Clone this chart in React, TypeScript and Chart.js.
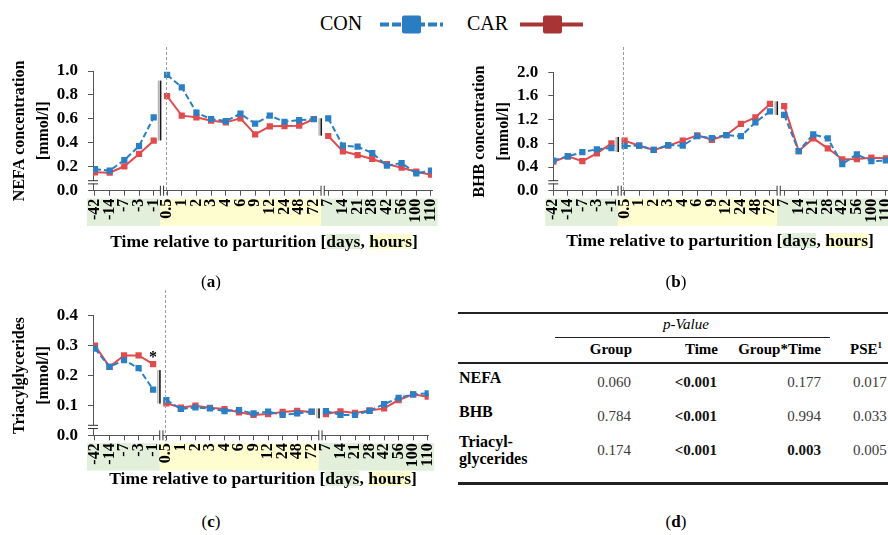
import React, { useEffect, useRef } from 'react';
import { Chart, registerables } from 'chart.js';

Chart.register(...registerables);

const SERIF = '"Liberation Serif", "Times New Roman", serif';

// Sampling times: days before calving, hours after calving, days after calving
const PRE_DAYS = ['-42', '-14', '-7', '-3', '-1'];
const HOURS = ['0.5', '1', '2', '3', '4', '6', '9', '12', '24', '48', '72'];
const POST_DAYS = ['7', '14', '21', '28', '42', '56', '100', '110'];

// NEFA [mmol/l]
const NEFA_CON = [0.18, 0.167, 0.256, 0.373, 0.613, 0.967, 0.864, 0.652, 0.599, 0.582, 0.643, 0.56, 0.627, 0.576, 0.59, 0.597, 0.605, 0.376, 0.368, 0.315, 0.209, 0.231, 0.145, 0.167];
const NEFA_CAR = [0.154, 0.15, 0.204, 0.307, 0.418, 0.791, 0.627, 0.613, 0.585, 0.571, 0.605, 0.471, 0.538, 0.54, 0.543, 0.599, 0.457, 0.329, 0.298, 0.265, 0.223, 0.192, 0.159, 0.134];

// BHB [mmol/l]
const BHB_CON = [0.51, 0.58, 0.65, 0.7, 0.72, 0.755, 0.76, 0.69, 0.77, 0.76, 0.92, 0.89, 0.94, 0.92, 1.155, 1.34, 1.28, 0.67, 0.95, 0.885, 0.45, 0.615, 0.5, 0.51];
const BHB_CAR = [0.49, 0.58, 0.5, 0.63, 0.8, 0.845, 0.76, 0.69, 0.76, 0.845, 0.935, 0.86, 0.94, 1.13, 1.24, 1.465, 1.43, 0.67, 0.885, 0.716, 0.53, 0.535, 0.557, 0.547];

// Triacylglycerides [mmol/l]
const TAG_CON = [0.29, 0.229, 0.251, 0.225, 0.153, 0.118, 0.088, 0.093, 0.09, 0.081, 0.084, 0.073, 0.079, 0.068, 0.073, 0.079, 0.081, 0.068, 0.068, 0.082, 0.104, 0.125, 0.137, 0.14];
const TAG_CAR = [0.3, 0.229, 0.267, 0.267, 0.238, 0.107, 0.093, 0.099, 0.092, 0.088, 0.077, 0.068, 0.071, 0.078, 0.082, 0.078, 0.071, 0.08, 0.075, 0.083, 0.09, 0.118, 0.137, 0.129];

// Statistics table
const TABLE_ROWS = [['NEFA'], ['BHB'], ['Triacyl-', 'glycerides']];
const P_GROUP = ['0.060', '0.784', '0.174'];
const P_TIME = ['<0.001', '<0.001', '<0.001'];
const P_GROUP_TIME = ['0.177', '0.994', '0.003'];
const PSE = ['0.017', '0.033', '0.005'];

const CON_COLOR = '#2b7fc4';
const CAR_COLOR = '#e04b4d';
const CON_KEY = '#2a7dc2';
const CAR_KEY = '#a83436';
const AXIS = '#555555';
const DAY_FILL = '#e2efda';
const HOUR_FILL = '#fefdd0';

const BLOCKS = [PRE_DAYS, HOURS, POST_DAYS];
const BLOCK_FILL = [DAY_FILL, HOUR_FILL, DAY_FILL];
// x position of the first sample in each block (blocks are separated by axis breaks)
const BLOCK_START = [0, 4.91, 15.89];
const TIME_LABELS = BLOCKS.flat();
const X_POS = BLOCKS.flatMap((b, i) => b.map((_, j) => BLOCK_START[i] + j));
const BLOCK_END = BLOCKS.map((b, i) => BLOCK_START[i] + b.length - 1);
const GAPS = [(BLOCK_END[0] + BLOCK_START[1]) / 2, (BLOCK_END[1] + BLOCK_START[2]) / 2];
const PARTURITION_X = BLOCK_START[1] - 0.1;

function toPoints(values: number[]) {
  const pts: { x: number; y: number | null }[] = [];
  let k = 0;
  BLOCKS.forEach((b, i) => {
    if (i > 0) pts.push({ x: GAPS[i - 1], y: null });
    b.forEach(() => {
      pts.push({ x: X_POS[k], y: values[k] });
      k++;
    });
  });
  return pts;
}

type Panel = {
  con: number[];
  car: number[];
  yMax: number;
  yStep: number;
  yTitle: string[];
  left: number;
  top: number;
  width: number;
  height: number;
  padTop: number;
  padRight: number;
  yAxisWidth: number;
  xAxisHeight: number;
  titlePad: number;
  xMin: number;
  xMax: number;
  breakRanges: [number, number][];
  starAt?: number;
};

const PANELS: Panel[] = [
  {
    con: NEFA_CON, car: NEFA_CAR, yMax: 1.0, yStep: 0.2,
    yTitle: ['NEFA concentration', '[mmol/l]'],
    left: 0, top: 45, width: 456, height: 190,
    padTop: 26, padRight: 24, yAxisWidth: 93, xAxisHeight: 44.3, titlePad: 7.5,
    xMin: -0.136, xMax: 22.96,
    breakRanges: [[0.42, 0.92], [0.46, 0.605]],
  },
  {
    con: BHB_CON, car: BHB_CAR, yMax: 2.0, yStep: 0.4,
    yTitle: ['BHB concentration', '[mmol/l]'],
    left: 445, top: 45, width: 471, height: 190,
    padTop: 27.3, padRight: 24.15, yAxisWidth: 108.3, xAxisHeight: 44.3, titlePad: 23,
    xMin: 0, xMax: 23.3,
    breakRanges: [[0.654, 0.907], [1.28, 1.51]],
  },
  {
    con: TAG_CON, car: TAG_CAR, yMax: 0.4, yStep: 0.1,
    yTitle: ['Triacylglycerides', '[mmol/l]'],
    left: 0, top: 288, width: 453, height: 192,
    padTop: 27.7, padRight: 24.3, yAxisWidth: 93, xAxisHeight: 44.7, titlePad: 7.5,
    xMin: -0.136, xMax: 22.96,
    breakRanges: [[0.106, 0.218], [0.057, 0.09]],
    starAt: 4,
  },
];

function decorations(p: Panel) {
  return {
    id: 'decorations',
    beforeDraw(chart: any) {
      const { ctx, chartArea, scales } = chart;
      const x = scales.x;
      const bandTop = chartArea.bottom + 7.8;
      const bandH = 27.5;
      ctx.save();
      BLOCKS.forEach((_, i) => {
        const from = i === 0 ? BLOCK_START[0] - 0.55 : GAPS[i - 1];
        const to = i === BLOCKS.length - 1 ? BLOCK_END[i] + 0.45 : GAPS[i];
        const x0 = x.getPixelForValue(from);
        const x1 = x.getPixelForValue(to);
        ctx.fillStyle = BLOCK_FILL[i];
        ctx.fillRect(x0, bandTop, x1 - x0, bandH);
      });
      ctx.restore();
    },
    afterDraw(chart: any) {
      const { ctx, chartArea, scales } = chart;
      const x = scales.x;
      const y = scales.y;
      ctx.save();

      // calving marker
      const px = Math.round(x.getPixelForValue(PARTURITION_X)) + 0.5;
      ctx.strokeStyle = '#9c9c9c';
      ctx.lineWidth = 1;
      ctx.setLineDash([3, 2]);
      ctx.beginPath();
      ctx.moveTo(px, 2);
      ctx.lineTo(px, chartArea.bottom + 6);
      ctx.stroke();
      ctx.setLineDash([]);

      // break bars between the time blocks
      p.breakRanges.forEach(([lo, hi], i) => {
        const bx = x.getPixelForValue(GAPS[i]);
        const y0 = y.getPixelForValue(hi);
        const y1 = y.getPixelForValue(lo);
        ctx.fillStyle = '#b4b4b4';
        ctx.fillRect(bx - 2.6, y0, 1.4, y1 - y0);
        ctx.fillStyle = '#1a1a1a';
        ctx.fillRect(bx - 0.6, y0, 1.6, y1 - y0);
      });

      // x-axis breaks
      GAPS.forEach((g) => {
        const bx = x.getPixelForValue(g) + 1.5;
        const by = chartArea.bottom;
        ctx.fillStyle = '#ffffff';
        ctx.fillRect(bx - 1.5, by - 1, 3, 2);
        ctx.fillStyle = '#333333';
        ctx.fillRect(bx - 2, by - 5, 1, 10);
        ctx.fillRect(bx + 1.2, by - 5, 1, 10);
      });

      // y-axis break
      const lx = chartArea.left;
      const yb = chartArea.bottom - 8.5;
      ctx.fillStyle = '#ffffff';
      ctx.fillRect(lx - 1, yb - 1.2, 2.5, 2.4);
      ctx.fillStyle = '#333333';
      ctx.fillRect(lx - 5, yb - 2, 10, 1);
      ctx.fillRect(lx - 5, yb + 1.2, 10, 1);

      // significance mark
      if (p.starAt !== undefined) {
        const sx = x.getPixelForValue(X_POS[p.starAt]);
        const sy = y.getPixelForValue(p.car[p.starAt]);
        ctx.fillStyle = '#000000';
        ctx.font = `bold 16px ${SERIF}`;
        ctx.textAlign = 'center';
        ctx.textBaseline = 'alphabetic';
        ctx.fillText('*', sx, sy - 2);
      }
      ctx.restore();
    },
  };
}

function makeConfig(p: Panel): any {
  const tickFont = { family: SERIF, weight: 'bold' as const, size: 16 };
  return {
    type: 'line',
    data: {
      datasets: [
        {
          label: 'CON',
          data: toPoints(p.con),
          borderColor: CON_COLOR,
          backgroundColor: CON_COLOR,
          borderWidth: 2,
          borderDash: [6, 3],
          pointStyle: 'rect',
          pointRadius: 4.4,
          pointBorderWidth: 0,
          spanGaps: false,
          tension: 0,
        },
        {
          label: 'CAR',
          data: toPoints(p.car),
          borderColor: CAR_COLOR,
          backgroundColor: CAR_COLOR,
          borderWidth: 2,
          pointStyle: 'rect',
          pointRadius: 4.4,
          pointBorderWidth: 0,
          spanGaps: false,
          tension: 0,
        },
      ],
    },
    options: {
      responsive: false,
      animation: false,
      devicePixelRatio: 1,
      layout: { padding: { top: p.padTop, right: p.padRight, bottom: 0, left: 0 } },
      plugins: { legend: { display: false }, tooltip: { enabled: false } },
      scales: {
        x: {
          type: 'linear',
          min: p.xMin,
          max: p.xMax,
          afterBuildTicks: (s: any) => {
            s.ticks = X_POS.map((v) => ({ value: v }));
          },
          afterFit: (s: any) => {
            s.height = p.xAxisHeight;
          },
          ticks: {
            autoSkip: false,
            minRotation: 90,
            maxRotation: 90,
            padding: 3,
            color: '#000000',
            font: tickFont,
            callback: (_v: number, i: number) => TIME_LABELS[i],
          },
          grid: { drawOnChartArea: false, drawTicks: true, tickLength: 5, color: AXIS },
          border: { display: true, color: AXIS, width: 1 },
        },
        y: {
          min: 0,
          max: p.yMax,
          afterFit: (s: any) => {
            s.width = p.yAxisWidth;
          },
          ticks: {
            stepSize: p.yStep,
            padding: 10,
            color: '#000000',
            font: { family: SERIF, weight: 'bold', size: 17 },
            callback: (v: number) => Number(v).toFixed(1),
          },
          grid: { drawOnChartArea: false, drawTicks: true, tickLength: 5, color: AXIS },
          border: { display: true, color: AXIS, width: 1 },
          title: {
            display: true,
            text: p.yTitle,
            color: '#000000',
            font: { family: SERIF, weight: 'bold', size: 16, lineHeight: 1.5 },
            padding: { top: p.titlePad, bottom: 0 },
          },
        },
      },
    },
    plugins: [decorations(p)],
  };
}

function LineChart({ panel }: { panel: Panel }) {
  const ref = useRef<HTMLCanvasElement | null>(null);
  useEffect(() => {
    if (!ref.current) return;
    const chart = new Chart(ref.current, makeConfig(panel));
    return () => chart.destroy();
  }, [panel]);
  return (
    <div style={{ position: 'absolute', left: panel.left, top: panel.top, width: panel.width, height: panel.height }}>
      <canvas ref={ref} width={panel.width} height={panel.height} style={{ display: 'block' }} />
    </div>
  );
}

type TextProps = {
  x: number;
  y: number;
  size: number;
  align?: 'left' | 'center' | 'right';
  bold?: boolean;
  italic?: boolean;
  color?: string;
  children: React.ReactNode;
};

// Positions a single line of text by its visual centre
function Txt({ x, y, size, align = 'left', bold, italic, color = '#000', children }: TextProps) {
  const shift = align === 'center' ? 'translateX(-50%)' : align === 'right' ? 'translateX(-100%)' : 'none';
  return (
    <div
      style={{
        position: 'absolute',
        left: x,
        top: y - size * 0.54,
        fontSize: size,
        lineHeight: `${size}px`,
        fontWeight: bold ? 700 : 400,
        fontStyle: italic ? 'italic' : 'normal',
        color,
        whiteSpace: 'nowrap',
        transform: shift,
      }}
    >
      {children}
    </div>
  );
}

function AxisTitle({ x, y }: { x: number; y: number }) {
  const mark = (bg: string) => ({
    display: 'inline-block',
    background: bg,
    lineHeight: '15px',
    height: 15,
  });
  return (
    <Txt x={x} y={y} size={17.5} align="center" bold>
      Time relative to parturition [<span style={mark(DAY_FILL)}>days</span>, <span style={mark(HOUR_FILL)}>hours</span>]
    </Txt>
  );
}

function PanelLabel({ x, y, letter }: { x: number; y: number; letter: string }) {
  return (
    <Txt x={x} y={y} size={17} align="center">
      (<b>{letter}</b>)
    </Txt>
  );
}

function Legend() {
  return (
    <>
      <Txt x={320} y={24} size={20}>CON</Txt>
      <Txt x={467} y={24} size={20}>CAR</Txt>
      <svg style={{ position: 'absolute', left: 0, top: 0 }} width={888} height={50}>
        <line x1={380} x2={443} y1={24.5} y2={24.5} stroke={CON_KEY} strokeWidth={4} strokeDasharray="9 3" />
        <rect x={402} y={15.5} width={19} height={18} rx={2} fill={CON_KEY} />
        <line x1={520} x2={583} y1={24.5} y2={24.5} stroke={CAR_KEY} strokeWidth={4} />
        <rect x={543} y={15.5} width={19} height={18} rx={2} fill={CAR_KEY} />
      </svg>
    </>
  );
}

const isSignificant = (v: string) => v.startsWith('<') || parseFloat(v) < 0.05;

function StatsTable() {
  const rule = (top: number, left: number, width: number, h: number) => (
    <div style={{ position: 'absolute', left, top, width, height: h, background: '#222' }} />
  );
  const rightEdges = [631, 717, 821];
  const columns = [P_GROUP, P_TIME, P_GROUP_TIME];
  return (
    <>
      {rule(311.5, 458, 440, 2)}
      {rule(337, 555, 275, 1.3)}
      {rule(362, 458, 440, 2)}
      {rule(482, 458, 440, 2.5)}
      <Txt x={686} y={325} size={15} align="center" italic>p-Value</Txt>
      <Txt x={632} y={350} size={15} align="right" bold>Group</Txt>
      <Txt x={718} y={350} size={15} align="right" bold>Time</Txt>
      <Txt x={821} y={350} size={15} align="right" bold>Group*Time</Txt>
      <Txt x={850} y={350} size={15} bold>
        PSE<sup style={{ fontSize: 9, lineHeight: 0 }}>1</sup>
      </Txt>
      {TABLE_ROWS.map((lines, i) => {
        const cy = 383.3 + i * 33.7;
        return (
          <React.Fragment key={i}>
            {lines.length === 1 ? (
              <Txt x={459} y={cy - 4.5} size={16} bold>{lines[0]}</Txt>
            ) : (
              lines.map((l, j) => (
                <Txt key={j} x={459} y={cy - 8 + j * 17} size={16} bold>{l}</Txt>
              ))
            )}
            {columns.map((col, c) => (
              <Txt key={c} x={rightEdges[c]} y={cy} size={15} align="right" bold={isSignificant(col[i])} color={isSignificant(col[i]) ? '#111' : '#3a3a3a'}>
                {col[i]}
              </Txt>
            ))}
            <Txt x={853} y={cy} size={15} color="#3a3a3a">{PSE[i]}</Txt>
          </React.Fragment>
        );
      })}
    </>
  );
}

export default function App() {
  return (
    <div
      style={{
        position: 'fixed',
        left: 0,
        top: 0,
        width: 888,
        height: 535,
        overflow: 'hidden',
        background: '#ffffff',
        fontFamily: SERIF,
      }}
    >
      <Legend />
      {PANELS.map((p, i) => (
        <LineChart key={i} panel={p} />
      ))}
      <AxisTitle x={264} y={242} />
      <AxisTitle x={720} y={241} />
      <AxisTitle x={263} y={479} />
      <PanelLabel x={211} y={282} letter="a" />
      <PanelLabel x={676} y={282} letter="b" />
      <PanelLabel x={211} y={522} letter="c" />
      <PanelLabel x={676} y={522} letter="d" />
      <StatsTable />
    </div>
  );
}
